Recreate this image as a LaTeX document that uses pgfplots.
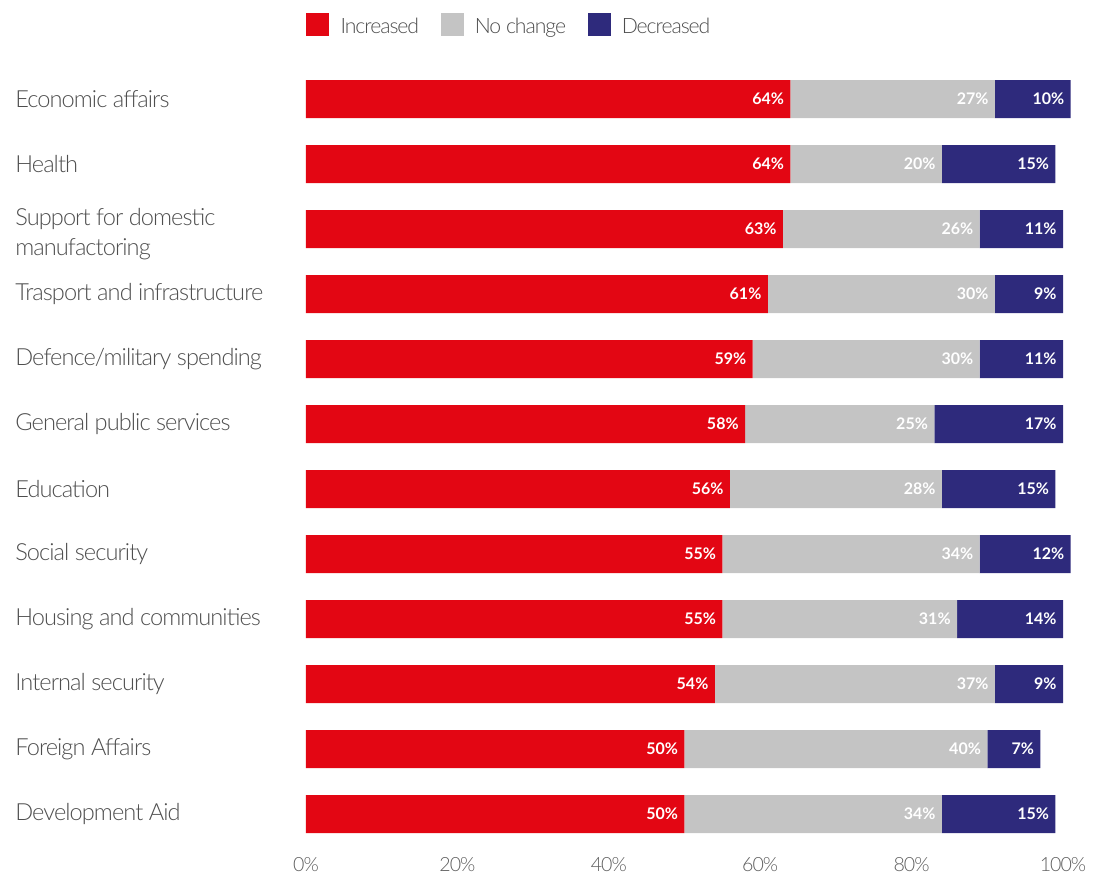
\documentclass[border=0pt]{standalone}
\usepackage{fontspec}
\IfFontExistsTF{Lato Light}{%
  \setmainfont{Lato Light}[BoldFont={Lato Bold}]
  \newfontfamily\labfont{Lato Light}[LetterSpace=-4]
  \newfontfamily\legfont{Lato Light}[LetterSpace=-5]
  \newfontfamily\tickfont{Lato Light}[LetterSpace=-5]
}{%
  \setmainfont{Lato}
  \newfontfamily\labfont{Lato}[LetterSpace=-4]
  \newfontfamily\legfont{Lato}[LetterSpace=-5]
  \newfontfamily\tickfont{Lato}[LetterSpace=-5]
}
\usepackage{pgfplots}
\usepackage{pgfplotstable}
\pgfplotsset{compat=1.18}
\definecolor{cinc}{HTML}{E30613}
\definecolor{cnoc}{HTML}{C4C4C4}
\definecolor{cdec}{HTML}{2E2A7C}
\definecolor{txt}{HTML}{4E4E4E}
\definecolor{ticktxt}{HTML}{5E5E5E}
\pgfplotstableread{
y inc noc dec
0 64 27 10
1 64 20 15
2 63 26 11
3 61 30 9
4 59 30 11
5 58 25 17
6 56 28 15
7 55 34 12
8 55 31 14
9 54 37 9
10 50 40 7
11 50 34 15
}\datatable
\begin{document}
\begin{tikzpicture}
\begin{axis}[
  name=ax,
  scale only axis, width=378.5pt, height=390pt,
  xbar stacked, bar width=19pt,
  xmin=0, xmax=100, ymin=-0.5, ymax=11.5, y dir=reverse,
  clip=false,
  axis line style={draw=none}, major tick style={draw=none},
  /pgf/number format/assume math mode=true,
  xtick={0,20,40,60,80,100},
  xticklabel={\pgfmathprintnumber{\tick}\%},
  xticklabel style={font=\tickfont\fontsize{9.8}{12}\selectfont, text=ticktxt, yshift=-2pt},
  ytick={0,...,11},
  yticklabels={Economic affairs, Health, {\rule{0pt}{13.5pt}Support for domestic\\[0.5pt]manufactoring}, Trasport and infrastructure, Defence/military spending, General public services, Education, Social security, Housing and communities, Internal security, Foreign Affairs, Development Aid},
  yticklabel style={anchor=west, align=left, inner sep=0pt, xshift=-145.5pt, font=\labfont\fontsize{11.8}{14.5}\selectfont, text=txt},
  point meta=explicit symbolic,
  nodes near coords={\pgfplotspointmeta\%},
  every node near coord/.append style={anchor=east, inner sep=0pt, xshift={\pgfplotspointmeta*1.8925pt-3pt}, text=white, font=\bfseries\fontsize{8}{9}\selectfont},
  legend columns=3,
  legend style={at={(0,1)}, anchor=west, yshift=21pt, draw=none, fill=none, inner sep=0pt, nodes={inner sep=0pt}, font=\legfont\fontsize{10.6}{13}\selectfont, text=txt,
    /tikz/every odd column/.append style={column sep=5.6pt},
    /tikz/every even column/.append style={column sep=10.8pt}},
  legend image code/.code={\fill[#1] (0pt,-4.6pt) rectangle (11.5pt,6.9pt);},
]
\addplot[fill=cinc, draw=none] table[x=inc, y=y, meta=inc] {\datatable};
\addplot[fill=cnoc, draw=none] table[x=noc, y=y, meta=noc] {\datatable};
\addplot[fill=cdec, draw=none] table[x=dec, y=y, meta=dec] {\datatable};
\legend{Increased, No change, Decreased}
\end{axis}
\pgfresetboundingbox
\path[use as bounding box] ([shift={(-153pt,-15.75pt)}]ax.south west) rectangle ([shift={(396pt,423.25pt)}]ax.south west);
\end{tikzpicture}
\end{document}
